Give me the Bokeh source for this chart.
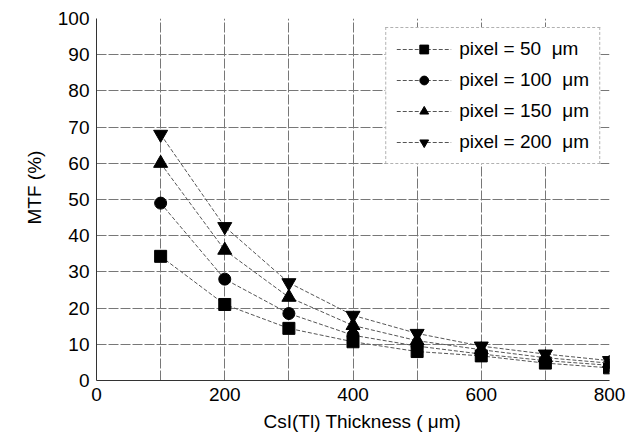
from bokeh.plotting import figure
from bokeh.embed import file_html
from bokeh.resources import INLINE
from bokeh.models import Legend, LegendItem, FixedTicker, Range1d, Title

thickness = [100, 200, 300, 400, 500, 600, 700, 800]
mtf_50 = [34.3, 21.0, 14.4, 10.7, 8.0, 6.8, 4.8, 3.5]
mtf_100 = [49.0, 28.0, 18.5, 12.5, 9.5, 7.3, 5.5, 4.2]
mtf_150 = [60.0, 36.0, 23.0, 15.2, 11.0, 8.5, 6.3, 4.8]
mtf_200 = [68.0, 42.5, 27.0, 18.0, 13.0, 9.5, 7.3, 5.5]
labels = ["pixel = 50\u00a0 \u03bcm", "pixel = 100\u00a0 \u03bcm",
          "pixel = 150\u00a0 \u03bcm", "pixel = 200\u00a0 \u03bcm"]
markers = ["square", "circle", "triangle", "inverted_triangle"]
series = [mtf_50, mtf_100, mtf_150, mtf_200]
x_title = "CsI(Tl) Thickness ( \u03bcm)"
y_title = "MTF (%)"

FONT = "Liberation Sans"
FS = "19px"

p = figure(width=637, height=439, output_backend="svg", toolbar_location=None,
           x_range=Range1d(0, 800), y_range=Range1d(0, 100),
           min_border_left=96, min_border_right=28, min_border_top=18,
           min_border_bottom=59)
p.outline_line_color = None
p.background_fill_color = "white"

items = []
for ys, m, lab in zip(series, markers, labels):
    ln = p.line(thickness, ys, line_color="#555555", line_width=1, line_dash="4 2")
    sz = 12 if m in ("square", "circle") else 14
    sc = p.scatter(thickness, ys, marker=m, size=sz, fill_color="black", line_color="black")
    items.append(LegendItem(label=lab, renderers=[ln, sc]))

legend = Legend(items=items, location="top_right")
legend.label_text_font = FONT
legend.label_text_font_size = FS
legend.label_text_color = "black"
legend.border_line_color = "#666666"
legend.border_line_dash = "3 2"
legend.background_fill_alpha = 1.0
legend.glyph_width = 55
legend.glyph_height = 22
legend.label_height = 22
legend.spacing = 9
legend.padding = 10
legend.margin = 9
legend.label_standoff = 8
p.add_layout(legend, "center")

p.xaxis.ticker = FixedTicker(ticks=[0, 200, 400, 600, 800])
p.yaxis.ticker = FixedTicker(ticks=list(range(0, 101, 10)))
p.xgrid.ticker = FixedTicker(ticks=list(range(0, 801, 100)))
p.ygrid.ticker = FixedTicker(ticks=list(range(0, 101, 10)))
p.grid.grid_line_color = "#777777"
p.grid.grid_line_width = 1
p.grid.grid_line_dash = "10 2"

for ax in (p.xaxis, p.yaxis):
    ax.major_label_text_font = FONT
    ax.major_label_text_font_size = FS
    ax.major_label_text_color = "black"
    ax.major_tick_out = 0
    ax.major_tick_in = 0
    ax.minor_tick_out = 0
    ax.minor_tick_in = 0
    ax.axis_line_color = "#333333"
    ax.axis_line_width = 1

p.xaxis.major_label_standoff = 7
p.yaxis.major_label_standoff = 7

# axis titles as side titles so they can sit off-centre like the original
p.add_layout(Title(text=x_title, text_font=FONT, text_font_size=FS,
                   text_font_style="normal", text_color="black",
                   align="left", offset=167, standoff=11), "below")
p.add_layout(Title(text=y_title, text_font=FONT, text_font_size=FS,
                   text_font_style="normal", text_color="black",
                   align="left", offset=156, standoff=19), "left")

open("out.html", "w").write(file_html(p, INLINE))
